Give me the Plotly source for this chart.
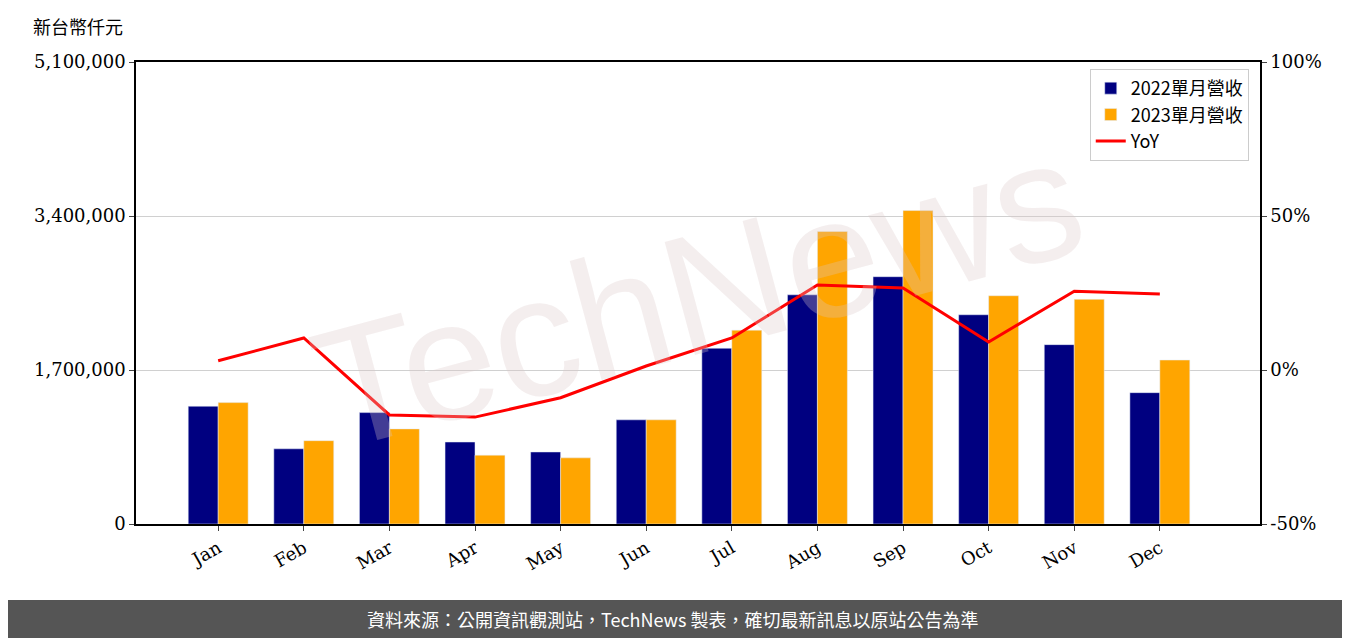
import plotly.graph_objects as go

months = ["Jan","Feb","Mar","Apr","May","Jun","Jul","Aug","Sep","Oct","Nov","Dec"]
rev2022 = [1300000, 830000, 1230000, 905000, 795000, 1150000, 1940000, 2530000, 2730000, 2310000, 1980000, 1450000]
rev2023 = [1340000, 920000, 1050000, 760000, 730000, 1150000, 2140000, 3230000, 3460000, 2520000, 2480000, 1810000]
yoy = [3.0, 10.4, -14.6, -15.3, -9.0, 1.3, 10.4, 27.6, 26.6, 9.1, 25.6, 24.7]
left_ticks = [0, 1700000, 3400000, 5100000]
left_labels = ["0", "1,700,000", "3,400,000", "5,100,000"]
right_ticks = [-50, 0, 50, 100]
right_labels = ["-50%", "0%", "50%", "100%"]

serif = "DejaVu Serif"
fig = go.Figure()
fig.add_bar(x=months, y=rev2022, name="2022單月營收", marker_color="#000080", offsetgroup=0)
fig.add_bar(x=months, y=rev2023, name="2023單月營收", marker_color="#FFA500", offsetgroup=1)
fig.add_scatter(x=months, y=yoy, name="YoY", mode="lines", line=dict(color="red", width=3), yaxis="y2")

fig.update_layout(
    width=1350, height=638, plot_bgcolor="white", paper_bgcolor="white",
    margin=dict(l=128, r=98, t=54, b=122),
    bargap=0.3, bargroupgap=0,
    font=dict(family=serif, size=18, color="black"),
    xaxis=dict(showline=True, linecolor="black", linewidth=1.5, mirror=True, ticks="outside",
               tickangle=-30, tickfont=dict(size=18), range=[-0.96, 12.17]),
    yaxis=dict(range=[0, 5100000], tickvals=left_ticks, ticktext=left_labels, showgrid=True,
               gridcolor="#d0d0d0", showline=True, linecolor="black", linewidth=1.5, ticks="outside",
               zeroline=False),
    yaxis2=dict(range=[-50, 100], tickvals=right_ticks, ticktext=right_labels, overlaying="y",
                side="right", showgrid=False, showline=True, linecolor="black", linewidth=1.5,
                ticks="outside", zeroline=False),
    legend=dict(x=0.99, y=0.985, xanchor="right", yanchor="top", bordercolor="#cccccc",
                borderwidth=1, bgcolor="rgba(255,255,255,0.8)",
                font=dict(family="Noto Sans CJK TC", size=18)),
    shapes=[dict(type="rect", xref="paper", yref="paper", x0=-0.4, x1=1.4, y0=-0.1645, y1=-0.3,
                 fillcolor="#555555", line_width=0, layer="below")],
    annotations=[
        dict(text="新台幣仟元", xref="paper", yref="paper", x=-0.093, y=1.045, xanchor="left",
             yanchor="bottom", showarrow=False, font=dict(family="Noto Sans CJK TC", size=18)),
        dict(text="資料來源：公開資訊觀測站，TechNews 製表，確切最新訊息以原站公告為準", xref="paper",
             yref="paper", x=0.478, y=-0.206, showarrow=False, yanchor="middle",
             font=dict(family="Noto Sans CJK TC", size=18, color="white")),
        dict(text="TechNews", xref="paper", yref="paper", x=0.5, y=0.5, showarrow=False,
             textangle=-15, font=dict(family="Liberation Sans", size=170, color="rgba(220,200,200,0.3)")),
    ],
)
fig.write_html("out.html")
